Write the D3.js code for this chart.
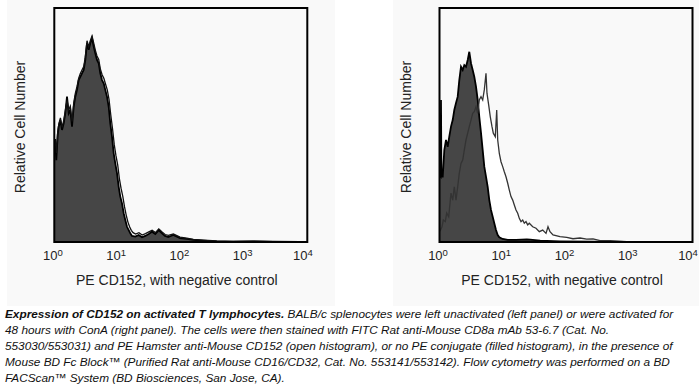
<!DOCTYPE html>
<meta charset="utf-8">
<script src="https://d3js.org/d3.v7.min.js"></script>
<style type="text/css">
body { margin: 0; background: #fff; }
svg { display: block; font-family: "Liberation Sans", Arial, sans-serif; }
.tick text { font-size: 13px; fill: #222; }
.axis path { display: none; }
.title { font-size: 14px; fill: #222; }
.caption { font-size: 11.8px; font-style: italic; fill: #111; }
</style>
<body></body>
<script>

// fluorescence decades on the x axis
var xTicks = [1, 10, 100, 1000, 10000];

// [PE intensity, relative count]
var leftFilled = [
  [1.00, 41.0], [1.037, 42.2], [1.076, 35.0], [1.132, 45.7], [1.174, 49.3], [1.244, 52.1],
  [1.324, 47.9], [1.408, 50.7], [1.492, 55.0], [1.588, 62.1], [1.689, 55.0], [1.791, 56.4],
  [1.905, 49.3], [2.026, 57.8], [2.148, 62.1], [2.285, 65.0], [2.431, 69.2], [2.577, 70.6],
  [2.741, 72.1], [2.916, 73.5], [3.091, 77.8], [3.289, 84.9], [3.499, 82.1], [3.709, 84.9],
  [3.945, 87.1], [4.197, 83.5], [4.449, 80.6], [4.733, 77.8], [5.035, 76.4], [5.337, 72.1],
  [5.678, 69.2], [6.040, 67.8], [6.402, 65.0], [6.811, 62.1], [7.246, 57.8], [7.680, 50.7],
  [8.171, 45.0], [8.693, 37.9], [9.213, 33.6], [9.802, 29.4], [10.43, 23.6], [11.05, 19.4],
  [11.76, 16.5], [12.51, 12.3], [13.26, 9.4], [14.11, 6.5], [15.01, 5.1], [15.91, 3.7],
  [16.92, 2.6], [19.08, 2.3], [21.60, 3.0], [24.36, 2.0], [27.46, 2.6], [31.09, 3.4],
  [35.05, 4.4], [39.53, 3.4], [44.73, 5.1], [50.45, 3.7], [56.2, 2.6], [63.44, 2.1],
  [76.10, 3.0], [97.1, 1.7], [124.0, 1.3], [157.6, 0.9], [226.8, 0.6], [369.5, 0.3],
  [669, 0.2], [1385, 0.3], [2869, 0.2], [7667, 0], [10000, 0]
];

var leftOpen = [
  [1.00, 40.5], [1.04, 44.0], [1.08, 38.0], [1.13, 47.0], [1.18, 50.5], [1.25, 53.0],
  [1.33, 49.0], [1.41, 52.0], [1.50, 56.5], [1.59, 60.5], [1.69, 56.5], [1.79, 58.0],
  [1.91, 51.5], [2.03, 59.5], [2.15, 63.5], [2.29, 66.5], [2.43, 70.0], [2.58, 72.0],
  [2.74, 73.5], [2.92, 75.0], [3.09, 79.0], [3.29, 86.0], [3.50, 83.5], [3.71, 86.0],
  [3.95, 88.0], [4.20, 85.0], [4.45, 82.0], [4.73, 79.5], [5.04, 78.0], [5.34, 74.0],
  [5.70, 71.5], [6.07, 70.0], [6.45, 67.5], [6.88, 65.0], [7.33, 61.0], [7.80, 54.5],
  [8.32, 48.5], [8.88, 41.5], [9.42, 37.0], [10.05, 33.0], [10.7, 27.0], [11.35, 23.0],
  [12.1, 19.5], [12.9, 15.0], [13.7, 11.5], [14.6, 8.5], [15.5, 6.5], [16.5, 5.0],
  [17.6, 4.0], [19.3, 3.4], [21.8, 4.0], [24.5, 3.0], [27.6, 3.6], [31.2, 4.3],
  [35.2, 5.0], [39.7, 4.0], [44.9, 5.6], [50.6, 4.3], [56.4, 3.2], [63.6, 2.8],
  [76.3, 3.4], [97.3, 2.1], [124, 1.6], [158, 1.1], [227, 0.8], [370, 0.5],
  [669, 0.3], [1385, 0.4], [2869, 0.2], [7667, 0], [10000, 0]
];

var rightFilled = [
  [1.00, 28.5], [1.041, 27.9], [1.056, 60.7], [1.072, 27.9], [1.124, 27.9], [1.191, 39.3],
  [1.267, 43.6], [1.348, 40.7], [1.428, 45.0], [1.519, 49.3], [1.617, 52.1], [1.714, 56.4],
  [1.824, 59.4], [1.940, 62.1], [2.056, 69.2], [2.187, 74.9], [2.327, 73.5], [2.466, 75.6],
  [2.624, 74.9], [2.792, 77.8], [2.959, 81.3], [3.148, 76.4], [3.349, 73.5], [3.549, 70.6],
  [3.777, 66.4], [4.018, 60.7], [4.258, 53.5], [4.531, 46.6], [4.820, 39.3], [5.109, 32.2],
  [5.435, 27.9], [5.781, 23.6], [6.130, 17.9], [6.520, 13.7], [6.936, 10.8], [7.352, 8.0],
  [7.821, 5.1], [8.323, 3.0], [8.822, 2.0], [9.98, 1.3], [11.98, 0.9], [16.20, 0.9],
  [24.03, 1.1], [27.13, 1.0], [39.05, 0.6], [80.9, 0.3], [272, 0.1], [916, 0], [10000, 0]
];

var rightOpen = [
  [1.00, 4.5], [1.037, 5.1], [1.095, 6.5], [1.148, 9.4], [1.235, 8.7], [1.300, 12.4],
  [1.398, 10.8], [1.519, 20.9], [1.617, 17.9], [1.714, 23.6], [1.824, 17.9], [1.940, 23.6],
  [2.056, 29.4], [2.187, 33.6], [2.327, 35.0], [2.466, 39.3], [2.624, 43.6], [2.792, 46.5],
  [2.959, 49.3], [3.148, 52.1], [3.349, 55.0], [3.549, 55.7], [3.777, 57.8], [4.018, 55.0],
  [4.258, 60.7], [4.531, 62.1], [4.820, 60.7], [5.109, 65.0], [5.435, 72.1], [5.636, 63.5],
  [5.996, 58.5], [6.356, 53.5], [6.761, 49.3], [7.088, 46.5], [7.625, 45.0], [8.025, 56.4],
  [8.322, 43.6], [8.822, 37.9], [9.383, 34.3], [9.98, 32.2], [10.58, 30.0], [11.25, 27.9],
  [11.98, 25.1], [12.70, 22.2], [13.50, 19.4], [14.37, 17.9], [15.23, 15.8], [16.20, 13.7],
  [17.23, 12.3], [18.27, 10.1], [19.44, 8.7], [20.68, 9.4], [21.91, 8.0], [23.31, 8.7],
  [24.80, 7.3], [26.29, 8.0], [29.75, 6.5], [33.56, 5.9], [37.85, 4.4], [42.81, 5.1],
  [48.29, 3.7], [51.93, 6.5], [55.85, 4.4], [62.31, 3.0], [80.38, 2.3], [102.6, 2.0],
  [129.0, 1.4], [166.4, 1.7], [212.5, 1.2], [267.3, 1.3], [344.8, 0.6], [496.4, 0.6],
  [911, 0.1], [1500, 0], [10000, 0]
];

var yLabel = "Relative Cell Number";
var xLabel = "PE CD152, with negative control";

var captionLines = [
  ["Expression of CD152 on activated T lymphocytes.", " BALB/c splenocytes were left unactivated (left panel) or were activated for"],
  ["", "48 hours with ConA (right panel). The cells were then stained with FITC Rat anti-Mouse CD8a mAb 53-6.7 (Cat. No."],
  ["", "553030/553031) and PE Hamster anti-Mouse CD152 (open histogram), or no PE conjugate (filled histogram), in the presence of"],
  ["", "Mouse BD Fc Block\u2122 (Purified Rat anti-Mouse CD16/CD32, Cat. No. 553141/553142). Flow cytometry was performed on a BD"],
  ["", "FACScan\u2122 System (BD Biosciences, San Jose, CA)."]
];

var W = 699, H = 384;
var plotW = 253, plotTop = 8, plotBottom = 242;

var svg = d3.select("body").append("svg")
    .attr("width", W)
    .attr("height", H);

function drawPanel(id, bgX, bgW, x0, filled, open, openStroke) {
  var g = svg.append("g");

  g.append("rect")
    .attr("x", bgX).attr("y", 0)
    .attr("width", bgW).attr("height", 306)
    .attr("fill", "#f9f9f9");

  var x = d3.scaleLog().domain([1, 10000]).range([x0, x0 + plotW]);
  var y = d3.scaleLinear().domain([0, 100]).range([plotBottom, plotTop]);

  g.append("clipPath").attr("id", id)
    .append("rect")
    .attr("x", x0).attr("y", plotTop)
    .attr("width", plotW).attr("height", plotBottom - plotTop);

  var area = d3.area()
    .x(function(d) { return x(d[0]); })
    .y0(y(0))
    .y1(function(d) { return y(d[1]); });

  var line = d3.line()
    .x(function(d) { return x(d[0]); })
    .y(function(d) { return y(d[1]); });

  var hist = g.append("g").attr("clip-path", "url(#" + id + ")");

  hist.append("path").datum(open)
    .attr("d", area)
    .attr("fill", "#fff");

  hist.append("path").datum(filled)
    .attr("d", area)
    .attr("fill", "#464646");

  hist.append("path").datum(filled)
    .attr("d", line)
    .attr("fill", "none")
    .attr("stroke", "#000")
    .attr("stroke-width", 1.8);

  hist.append("path").datum(open)
    .attr("d", line)
    .attr("fill", "none")
    .attr("stroke", openStroke)
    .attr("stroke-width", 1.3);

  // frame
  g.append("rect")
    .attr("x", x0).attr("y", plotTop)
    .attr("width", plotW).attr("height", plotBottom - plotTop)
    .attr("fill", "none")
    .attr("stroke", "#000")
    .attr("stroke-width", 2);

  var axis = d3.axisBottom(x)
    .tickValues(xTicks)
    .tickSize(0)
    .tickPadding(9)
    .tickFormat("");

  var ax = g.append("g")
    .attr("class", "axis")
    .attr("transform", "translate(0," + plotBottom + ")")
    .call(axis);

  ax.selectAll(".tick text")
    .attr("dx", function(d) { return d === 10000 ? -5 : -2; })
    .each(function(d) {
      var t = d3.select(this);
      t.append("tspan").text("10");
      t.append("tspan")
        .attr("dy", "-0.45em")
        .style("font-size", "9.5px")
        .text(Math.round(Math.log10(d)));
    });

  g.append("text")
    .attr("class", "title")
    .attr("x", x0 + plotW / 2 - 4)
    .attr("y", 285)
    .attr("text-anchor", "middle")
    .text(xLabel);

  g.append("text")
    .attr("class", "title")
    .attr("transform", "translate(" + (x0 - 29) + "," + 127 + ") rotate(-90)")
    .attr("text-anchor", "middle")
    .text(yLabel);
}

drawPanel("clipL", 7, 328, 54.3, leftFilled, leftOpen, "#111");
drawPanel("clipR", 393, 306, 439.5, rightFilled, rightOpen, "#333");

var cap = svg.append("g");
captionLines.forEach(function(l, i) {
  var t = cap.append("text")
    .attr("class", "caption")
    .attr("x", 5)
    .attr("y", 318 + i * 16);
  if (l[0]) t.append("tspan").style("font-weight", "bold").text(l[0]);
  t.append("tspan").text(l[1]);
});

</script>
